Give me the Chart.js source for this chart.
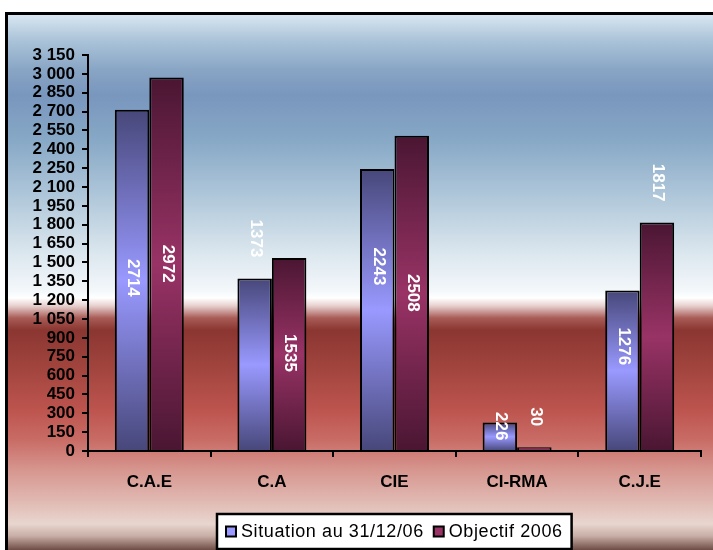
<!DOCTYPE html>
<html>
<head>
<meta charset="utf-8">
<title>Situation au 31/12/06 / Objectif 2006</title>
<script src="https://cdn.jsdelivr.net/npm/chart.js@4/dist/chart.umd.min.js"></script>
<style>
  html, body { margin: 0; padding: 0; background: #ffffff; }
  #wrap { width: 713px; height: 550px; position: relative; }
</style>
</head>
<body>
<div id="wrap"><canvas id="chart" width="713" height="550"></canvas></div>
<script>
// Categories and series
const categories = ['C.A.E', 'C.A', 'CIE', 'CI-RMA', 'C.J.E'];
const situation = [2714, 1373, 2243, 226, 1276];
const objectif = [2972, 1535, 2508, 30, 1817];
const seriesNames = ['Situation au 31/12/06', 'Objectif 2006'];

// Value axis
const yMin = 0;
const yMax = 3150;
const yStep = 150;

const FONT = '"Liberation Sans", Arial, Helvetica, sans-serif';
const BLUE = '#9999ff', BLUE_DARK = '#47477a';
const WINE = '#993366', WINE_DARK = '#4a1632';

// "3 150" style thousands
function fmtThousands(v) {
  if (v < 1000) return String(v);
  const k = Math.floor(v / 1000);
  const r = String(v % 1000).padStart(3, '0');
  return k + ' ' + r;
}

// Vertical shading of each bar: dark at both ends, light in the middle
function barShade(light, dark) {
  return (c) => {
    const chart = c.chart;
    if (!chart.chartArea || c.type !== 'data') return light;
    const y = chart.scales.y;
    const top = y.getPixelForValue(c.raw);
    const base = y.getPixelForValue(0);
    if (!(base > top)) return light;
    const g = chart.ctx.createLinearGradient(0, top, 0, base);
    g.addColorStop(0, dark);
    g.addColorStop(0.5, light);
    g.addColorStop(1, dark);
    return g;
  };
}

// Background panel with its frame
const framePlugin = {
  id: 'frame',
  beforeDraw(chart) {
    const ctx = chart.ctx;
    const W = chart.width, H = chart.height;
    ctx.save();
    const x0 = 8, y0 = 15;
    const g = ctx.createLinearGradient(0, y0, 0, H);
    const stops = [
      [15, '#d8e6f1'], [40, '#abc4d9'], [70, '#88a5c5'], [95, '#7996bd'],
      [140, '#87a8c6'], [200, '#b2c9db'], [250, '#d9e5ed'], [290, '#f3f7fa'],
      [298, '#ffffff'], [306, '#e6cfcd'], [318, '#a95c57'], [330, '#8b3631'],
      [370, '#a3453f'], [410, '#bd544e'], [440, '#c96c66'], [470, '#d6968f'],
      [500, '#e0b8b1'], [524, '#e8d6cf'], [536, '#c8aea6'], [550, '#6e4c46']
    ];
    stops.forEach(([y, col]) => g.addColorStop((y - y0) / (H - y0), col));
    ctx.fillStyle = g;
    ctx.fillRect(x0, y0, W - x0, H - y0);
    ctx.fillStyle = '#000000';
    ctx.fillRect(5, 12, W - 5, 3);
    ctx.fillRect(5, 12, 3, H - 12);
    ctx.restore();
  }
};

// Rotated value labels on the bars
const valueLabelPlugin = {
  id: 'valueLabels',
  afterDatasetsDraw(chart, args, opts) {
    const ctx = chart.ctx;
    chart.data.datasets.forEach((ds, di) => {
      const meta = chart.getDatasetMeta(di);
      meta.data.forEach((bar, i) => {
        const text = String(ds.data[i]);
        ctx.save();
        ctx.font = opts.font;
        const w = ctx.measureText(text).width;
        const place = opts.place[di][i];
        let cy;
        if (place === 'out') cy = bar.y - opts.gap - w / 2;
        else cy = (bar.y + bar.base) / 2 + place;
        ctx.translate(bar.x + 1, cy);
        ctx.rotate(Math.PI / 2);
        ctx.textAlign = 'center';
        ctx.textBaseline = 'middle';
        ctx.fillStyle = opts.color;
        ctx.fillText(text, 0, 0);
        ctx.restore();
      });
    });
  }
};

// Boxed legend under the axis
const boxLegendPlugin = {
  id: 'boxLegend',
  afterDraw(chart, args, opts) {
    const ctx = chart.ctx;
    const area = chart.chartArea;
    ctx.save();
    ctx.font = opts.font;
    ctx.letterSpacing = opts.spacing;
    const colors = chart.data.datasets.map(d => d.legendColor);
    const names = chart.data.datasets.map(d => d.label);
    const widths = names.map(n => ctx.measureText(n).width);
    const pad = 9, mark = 10, gapMark = 5, gapItem = 10;
    let total = pad * 2;
    widths.forEach((w, i) => { total += mark + gapMark + w + (i ? gapItem : 0); });
    const h = 35;
    const x = Math.round((area.left + area.right) / 2 - total / 2);
    const y = opts.top;
    ctx.fillStyle = '#ffffff';
    ctx.fillRect(x, y, total, h);
    ctx.lineWidth = 2.5;
    ctx.strokeStyle = '#000000';
    ctx.strokeRect(x, y, total, h);
    let cx = x + pad;
    const mid = y + h / 2;
    names.forEach((n, i) => {
      if (i) cx += gapItem;
      ctx.fillStyle = colors[i];
      ctx.fillRect(cx, mid - mark / 2, mark, mark);
      ctx.lineWidth = 2;
      ctx.strokeStyle = '#000000';
      ctx.strokeRect(cx, mid - mark / 2, mark, mark);
      cx += mark + gapMark;
      ctx.fillStyle = '#000000';
      ctx.textAlign = 'left';
      ctx.textBaseline = 'middle';
      ctx.fillText(n, cx, mid + 1);
      cx += widths[i];
    });
    ctx.restore();
  }
};

new Chart(document.getElementById('chart'), {
  type: 'bar',
  data: {
    labels: categories,
    datasets: [
      {
        label: seriesNames[0],
        data: situation,
        backgroundColor: barShade(BLUE, BLUE_DARK),
        legendColor: BLUE,
        borderColor: '#000000',
        borderWidth: 2,
        categoryPercentage: 0.5625,
        barPercentage: 1
      },
      {
        label: seriesNames[1],
        data: objectif,
        backgroundColor: barShade(WINE, WINE_DARK),
        legendColor: WINE,
        borderColor: '#000000',
        borderWidth: 2,
        categoryPercentage: 0.5625,
        barPercentage: 1
      }
    ]
  },
  options: {
    responsive: false,
    devicePixelRatio: 1,
    animation: false,
    layout: { padding: { left: 0, right: 12, top: 55, bottom: 0 } },
    plugins: {
      legend: { display: false },
      tooltip: { enabled: false },
      valueLabels: {
        font: 'bold 17px ' + FONT,
        color: '#ffffff',
        gap: 21,
        place: [
          [-2, 'out', -43, -10, -24],
          [0, -1, 0, 'out', 'out']
        ]
      },
      boxLegend: { font: '18px ' + FONT, spacing: '0.6px', top: 514 }
    },
    scales: {
      x: {
        afterFit(scale) { scale.height = 99; },
        grid: {
          offset: true,
          drawOnChartArea: false,
          drawTicks: true,
          tickLength: 6,
          color: '#000000',
          lineWidth: 2
        },
        border: { display: true, color: '#000000', width: 2 },
        ticks: {
          color: '#000000',
          font: { family: FONT, size: 17, weight: 'bold' },
          padding: 15,
          maxRotation: 0
        }
      },
      y: {
        min: yMin,
        max: yMax,
        afterFit(scale) { scale.width = 88; },
        grid: {
          drawOnChartArea: false,
          drawTicks: true,
          tickLength: 6,
          color: '#000000',
          lineWidth: 2
        },
        border: { display: true, color: '#000000', width: 2 },
        ticks: {
          stepSize: yStep,
          autoSkip: false,
          color: '#000000',
          padding: 7,
          font: { family: FONT, size: 17, weight: 'bold', lineHeight: 1 },
          callback: (v) => fmtThousands(v)
        }
      }
    }
  },
  plugins: [framePlugin, valueLabelPlugin, boxLegendPlugin]
});
</script>
</body>
</html>
